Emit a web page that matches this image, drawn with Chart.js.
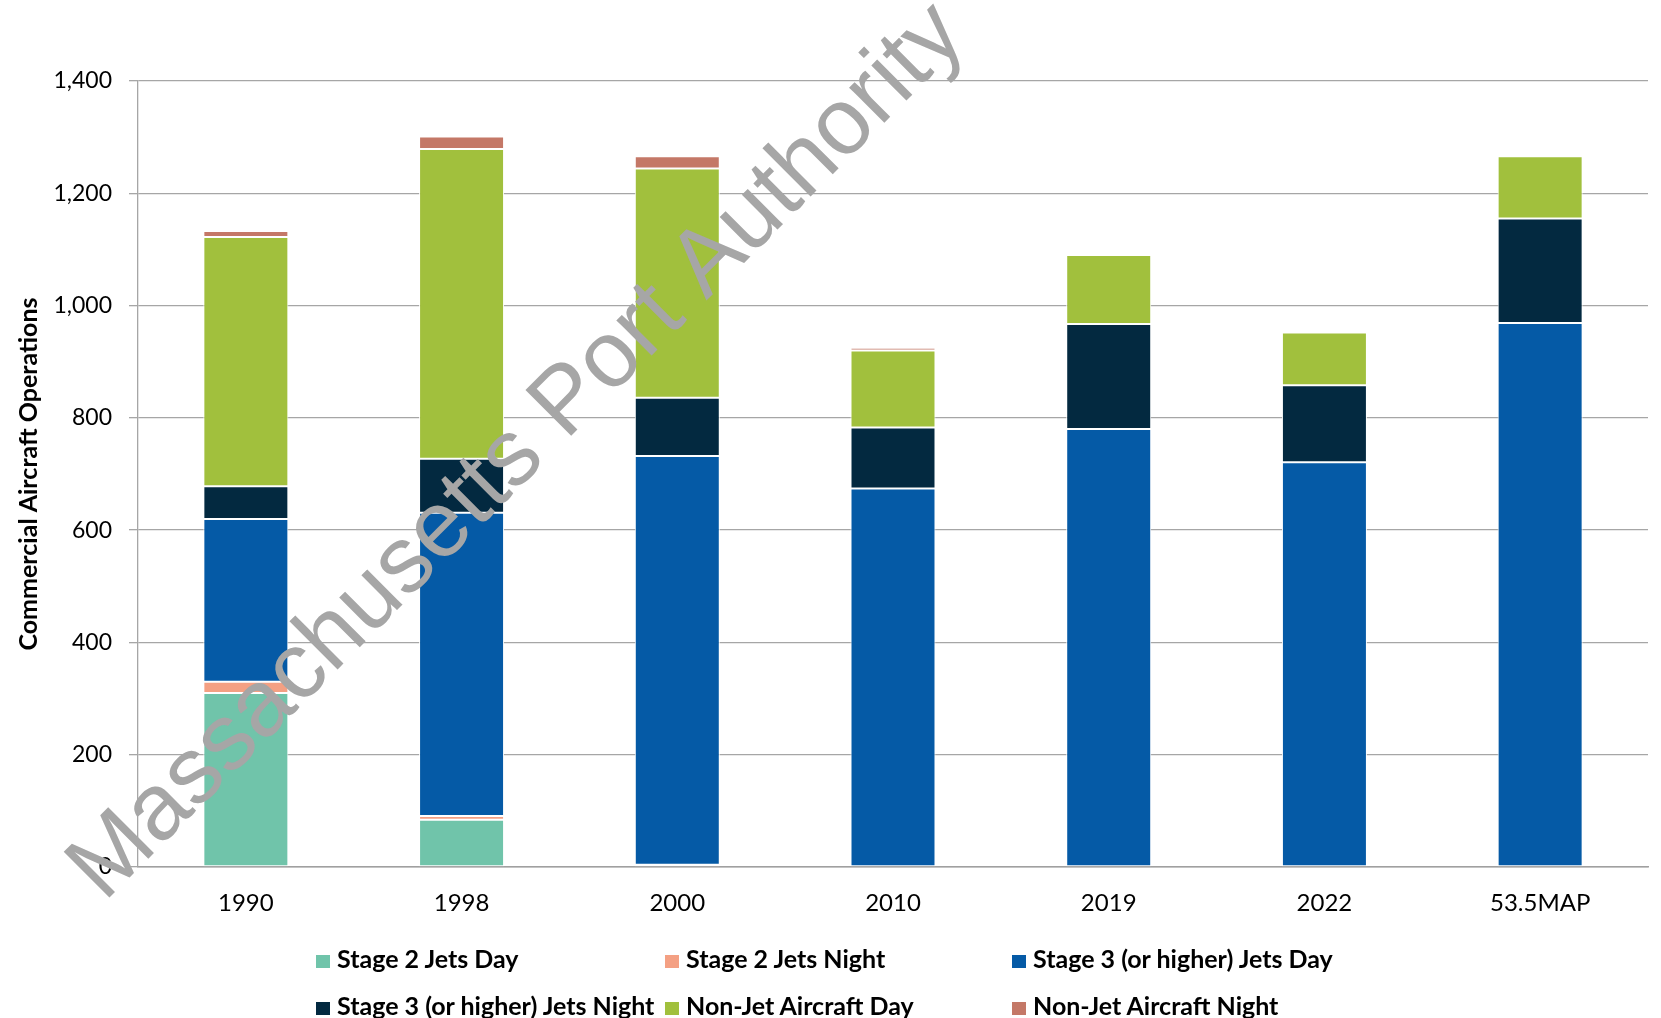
<!DOCTYPE html>
<html>
<head>
<meta charset="utf-8">
<script src="https://cdn.jsdelivr.net/npm/chart.js@4.4.1/dist/chart.umd.min.js"></script>
<style>
	body { margin: 0; background: #fff; overflow: hidden; }
	#wrap { position: relative; width: 1661px; height: 1018px; }
	#legend { position: absolute; left: 0; top: 0; width: 1661px; height: 1018px; pointer-events: none; }
	.item { position: absolute; font: bold 25px Lato, sans-serif; color: #000; white-space: nowrap; line-height: 28px; }
	.item span.box { display: inline-block; width: 14px; height: 13px; margin-right: 7px; vertical-align: 0px; }
</style>
</head>
<body>
<div id="wrap">
	<canvas id="chart" width="1661" height="930"></canvas>
	<div id="legend"></div>
</div>
<script>
var categories = ['1990', '1998', '2000', '2010', '2019', '2022', '53.5MAP'];
var seriesNames = ['Stage 2 Jets Day', 'Stage 2 Jets Night', 'Stage 3 (or higher) Jets Day',
	'Stage 3 (or higher) Jets Night', 'Non-Jet Aircraft Day', 'Non-Jet Aircraft Night'];
var stage2Day = [310, 84, 4, 0, 0, 0, 0];
var stage2Night = [20, 7, 0, 0, 0, 0, 0];
var stage3Day = [290, 540, 728, 674, 780, 721, 969];
var stage3Night = [58, 96, 104, 109, 187, 137, 186];
var nonJetDay = [444, 552, 408, 137, 123, 94, 111];
var nonJetNight = [11, 22, 22, 5, 0, 0, 0];
var yTicks = [0, 200, 400, 600, 800, 1000, 1200, 1400];

var colors = ['#70c4aa', '#f4a083', '#055aa6', '#032940', '#a1c03d', '#c47867'];
var allSeries = [stage2Day, stage2Night, stage3Day, stage3Night, nonJetDay, nonJetNight];

var watermark = {
	id: 'watermark',
	afterDraw: function (chart) {
		var ctx = chart.ctx;
		ctx.save();
		ctx.translate(104, 903);
		ctx.rotate(-Math.PI / 4);
		ctx.font = '94px "Liberation Sans", Arial, sans-serif';
		ctx.fillStyle = '#a6a6a6';
		ctx.textBaseline = 'alphabetic';
		ctx.fillText('Massachusetts Port Authority', 0, 0);
		ctx.restore();
	}
};

var datasets = [];
for (var i = 0; i < allSeries.length; i++) {
	datasets.push({
		label: seriesNames[i],
		data: allSeries[i],
		backgroundColor: colors[i],
		borderColor: '#ffffff',
		borderWidth: 1,
		borderSkipped: false,
		categoryPercentage: 1,
		barPercentage: 0.394
	});
}

var gridColor = '#a6a6a6';

new Chart(document.getElementById('chart').getContext('2d'), {
	type: 'bar',
	data: { labels: categories, datasets: datasets },
	options: {
		responsive: false,
		animation: false,
		layout: { padding: { top: 81, right: 13, left: 0, bottom: 0 } },
		plugins: { legend: { display: false }, tooltip: { enabled: false } },
		scales: {
			x: {
				stacked: true,
				grid: { display: false, drawTicks: false },
				border: { display: true, color: '#a0a0a0', width: 1.5 },
				ticks: { color: '#000', padding: 22, font: { family: 'Lato', size: 24 } },
				afterFit: function (scale) { scale.height = 63; }
			},
			y: {
				stacked: true,
				min: 0,
				max: 1400,
				afterBuildTicks: function (scale) {
					scale.ticks = yTicks.map(function (v) { return { value: v }; });
				},
				grid: { color: gridColor, lineWidth: 1.3, tickLength: 9 },
				border: { display: true, color: gridColor, width: 1.3 },
				ticks: {
					color: '#000',
					padding: 17,
					font: { family: 'Lato', size: 23 },
					callback: function (v) { return v.toLocaleString('en-US'); }
				},
				title: {
					display: true,
					text: 'Commercial Aircraft Operations',
					color: '#000',
					font: { family: 'Lato', size: 25, weight: 'bold' },
					padding: { top: 14, bottom: 0 }
				},
				afterFit: function (scale) { scale.width = 138; }
			}
		}
	},
	plugins: [watermark]
});

// legend in three columns under the chart
var colX = [316, 665, 1012];
var rowY = [944, 991];
var legend = document.getElementById('legend');
for (var k = 0; k < seriesNames.length; k++) {
	var div = document.createElement('div');
	div.className = 'item';
	div.style.left = colX[k % 3] + 'px';
	div.style.top = rowY[Math.floor(k / 3)] + 'px';
	div.innerHTML = '<span class="box" style="background:' + colors[k] + '"></span>' + seriesNames[k];
	legend.appendChild(div);
}
</script>
</body>
</html>
